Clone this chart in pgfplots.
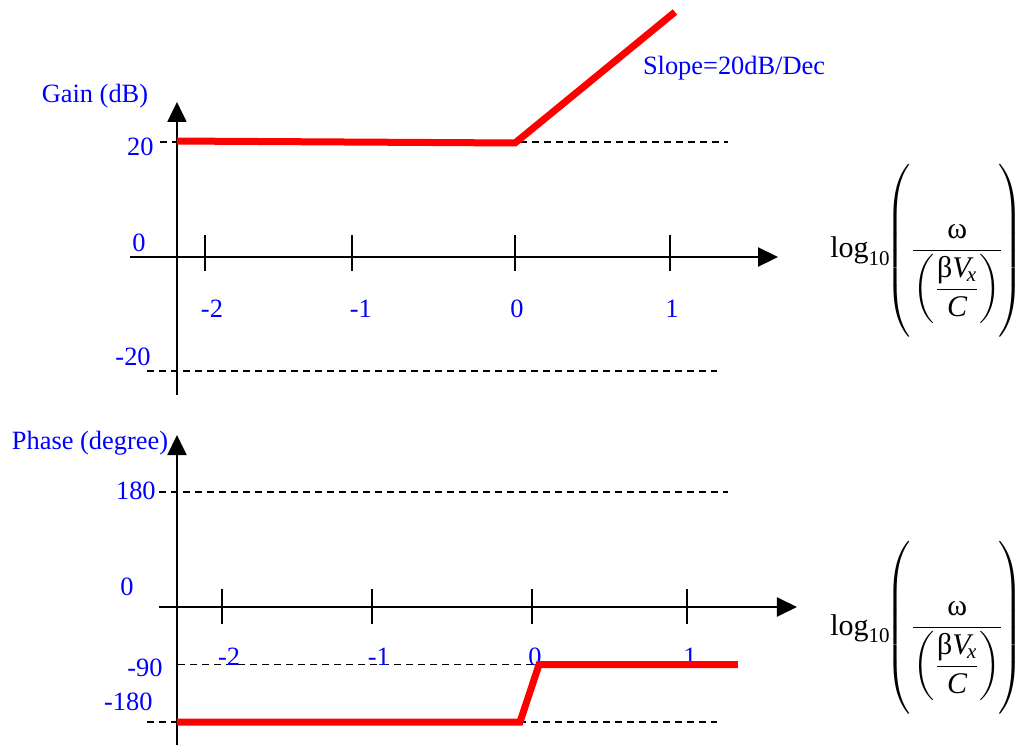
\documentclass[border=0pt]{standalone}
\usepackage{pgfplots}
\pgfplotsset{compat=1.18}
\usepackage{amsmath}
\usepackage{fontspec}
\setmainfont{Liberation Serif}
\usetikzlibrary{arrows.meta}
\definecolor{lblue}{RGB}{0,0,255}
\definecolor{lred}{RGB}{255,0,0}
\tikzset{
  ax/.style={black, line width=1pt, -{Triangle[length=10pt,width=9.5pt]}},
  tk/.style={black, line width=1pt},
  dsh/.style={black, line width=0.7pt, dash pattern=on 3.5pt off 2.5pt},
  rd/.style={lred, line width=3.5pt},
  lb/.style={text=lblue, inner sep=0pt},
  fm/.style={inner sep=0pt, font=\fontsize{15}{18}\selectfont},
}
\newcommand{\xlab}{$\displaystyle\text{log}_{\text{10}}\!\!\left(\rule[-41pt]{0pt}{90pt}\frac{\,\text{ω}\,}{\left(\dfrac{\text{β}\textit{V}_{\!\textit{x}}}{\textit{C}}\right)}\!\right)$}
\pgfplotsset{
  panel/.style={scale only axis, width=510.5pt, height=372.5pt, axis lines=none,
    clip=false, at={(0,0)}, anchor=south west},
}
\begin{document}
\begin{tikzpicture}[font=\fontsize{13.2}{15.8}\selectfont]
% ---------------- Gain panel ----------------
\begin{axis}[panel, xmin=-3.30968, xmax=3.27742, ymin=-84.870, ymax=44.696]
\addplot[dsh] coordinates {(-2.277,20) (1.387,20)};
\addplot[dsh] coordinates {(-2.361,-19.83) (1.316,-19.83)};
\addplot[ax] coordinates {(-2.471,0) (1.710,0)};
\addplot[ax] coordinates {(-2.168,-24.0) (-2.168,26.96)};
\addplot[tk] coordinates {(-1.987,-2.43) (-1.987,3.83)};
\addplot[tk] coordinates {(-1.039,-2.43) (-1.039,3.83)};
\addplot[tk] coordinates {(0.013,-2.43) (0.013,3.83)};
\addplot[tk] coordinates {(1.013,-2.43) (1.013,3.83)};
\addplot[rd] coordinates {(-2.168,20.17) (0.013,19.83) (1.045,42.61)};
\node[lb] at (axis cs:-1.942,-9.04) {-2};
\node[lb] at (axis cs:-0.981,-9.04) {-1};
\node[lb] at (axis cs:0.026,-9.04) {0};
\node[lb] at (axis cs:1.026,-9.04) {1};
\node[lb, anchor=east] at (axis cs:-2.316,19.13) {20};
\node[lb] at (axis cs:-2.413,2.43) {0};
\node[lb, anchor=east] at (axis cs:-2.335,-17.39) {-20};
\node[lb] at (axis cs:-2.697,28.0) {Gain (dB)};
\node[lb] at (axis cs:1.426,32.87) {Slope=20dB/Dec};
\node[fm] at (axis cs:2.671,1.22) {\xlab};
\end{axis}
% ---------------- Phase panel ----------------
\begin{axis}[panel, xmin=-3.42581, xmax=3.16129, ymin=-216.0, ymax=950.09]
\addplot[dsh] coordinates {(-2.4,180) (1.271,180)};
\addplot[dsh] coordinates {(-2.277,-90) (1.206,-90)};
\addplot[dsh] coordinates {(-2.477,-180) (1.2,-180)};
\addplot[ax] coordinates {(-2.4,0) (1.716,0)};
\addplot[ax] coordinates {(-2.284,-216) (-2.284,269.2)};
\addplot[tk] coordinates {(-1.994,-26.6) (-1.994,28.2)};
\addplot[tk] coordinates {(-1.026,-26.6) (-1.026,28.2)};
\addplot[tk] coordinates {(0.006,-26.6) (0.006,28.2)};
\addplot[tk] coordinates {(1.006,-26.6) (1.006,28.2)};
\node[lb] at (axis cs:-1.948,-78.3) {-2};
\node[lb] at (axis cs:-0.981,-78.3) {-1};
\node[lb] at (axis cs:0.026,-78.3) {0};
\node[lb] at (axis cs:1.026,-78.3) {1};
\addplot[rd] coordinates {(-2.284,-180) (-0.071,-180) (0.052,-90) (1.335,-90)};
\node[lb, anchor=east] at (axis cs:-2.419,181.6) {180};
\node[lb] at (axis cs:-2.606,31.3) {0};
\node[lb, anchor=east] at (axis cs:-2.374,-95.5) {-90};
\node[lb, anchor=east] at (axis cs:-2.439,-148.7) {-180};
\node[lb] at (axis cs:-2.845,256.7) {Phase (degree)};
\node[fm] at (axis cs:2.555,-31.3) {\xlab};
\end{axis}
\pgfresetboundingbox
\path (0,0) rectangle (510.5pt,372.5pt);
\end{tikzpicture}
\end{document}
